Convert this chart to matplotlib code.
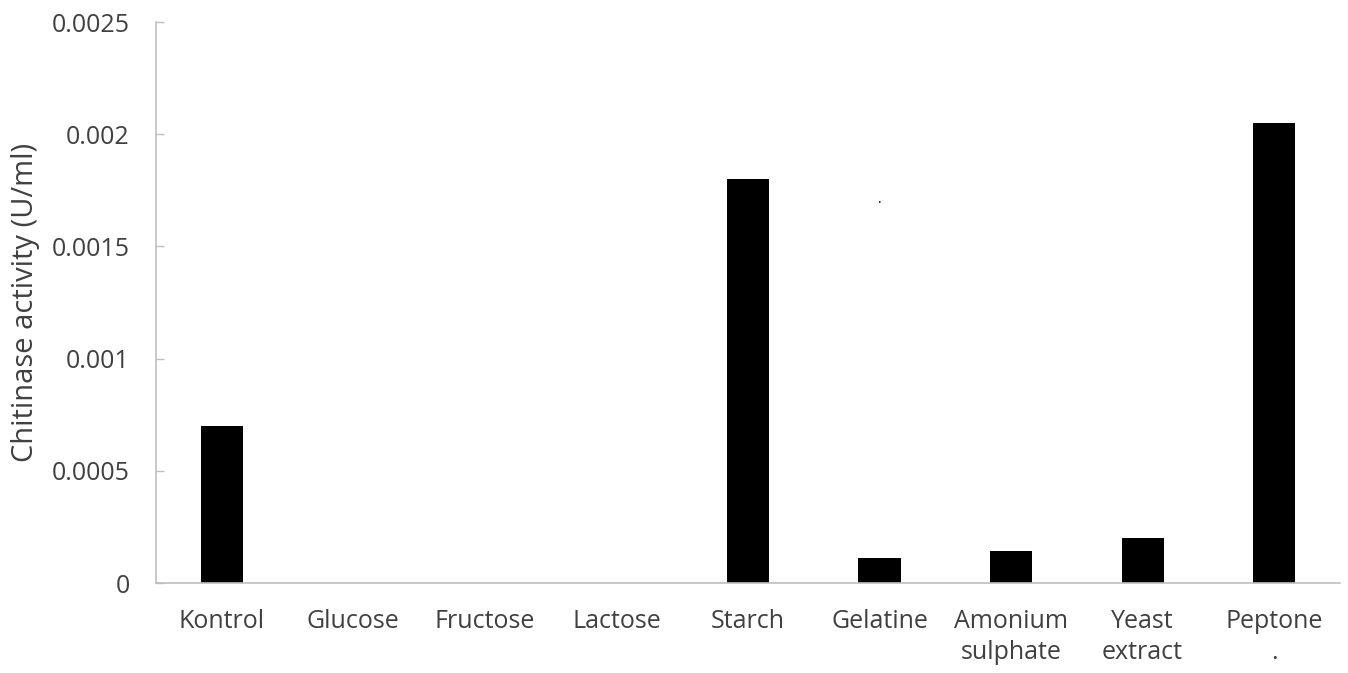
"""Chitinase activity by carbon/nitrogen source (bar chart)."""
import matplotlib
matplotlib.use("Agg")
import matplotlib.pyplot as plt

plt.rcParams["font.family"] = ["Open Sans", "DejaVu Sans"]

categories = ["Kontrol", "Glucose", "Fructose", "Lactose", "Starch",
              "Gelatine", "Amonium\nsulphate", "Yeast\nextract", "Peptone\n."]
activity = [0.0007, 0.0, 0.0, 0.0, 0.0018, 0.00011, 0.000143, 0.0002, 0.00205]
yticks = [0, 0.0005, 0.001, 0.0015, 0.002, 0.0025]
ytick_labels = ["0", "0.0005", "0.001", "0.0015", "0.002", "0.0025"]

text_color = "#404040"
axis_color = "#bfbfbf"

fig = plt.figure(figsize=(13.48, 6.73), dpi=100)
ax = fig.add_axes([0.1157, 0.1337, 0.8783, 0.8336])

x = range(len(categories))
ax.bar(x, activity, width=0.32, color="black")

ax.set_xlim(-0.5, len(categories) - 0.5)
ax.set_ylim(0, 0.0025)
ax.set_yticks(yticks)
ax.set_yticklabels(ytick_labels)
ax.set_xticks(list(x))
ax.set_xticklabels(categories, linespacing=1.3, va="top")

ax.tick_params(axis="y", direction="in", length=6, width=1, color=axis_color,
               labelsize=18, labelcolor=text_color, pad=19)
ax.tick_params(axis="x", length=0, labelsize=18, labelcolor=text_color, pad=19)

for side in ("top", "right"):
    ax.spines[side].set_visible(False)
for side in ("left", "bottom"):
    ax.spines[side].set_color(axis_color)
    ax.spines[side].set_linewidth(1.2)

ax.set_ylabel("Chitinase activity (U/ml)", fontsize=21, color=text_color, labelpad=8)

# stray speck from the original figure
ax.text(5.0, 0.00171, ".", fontsize=10, color="black", ha="center", va="center")

fig.savefig("out.png", dpi=100)
